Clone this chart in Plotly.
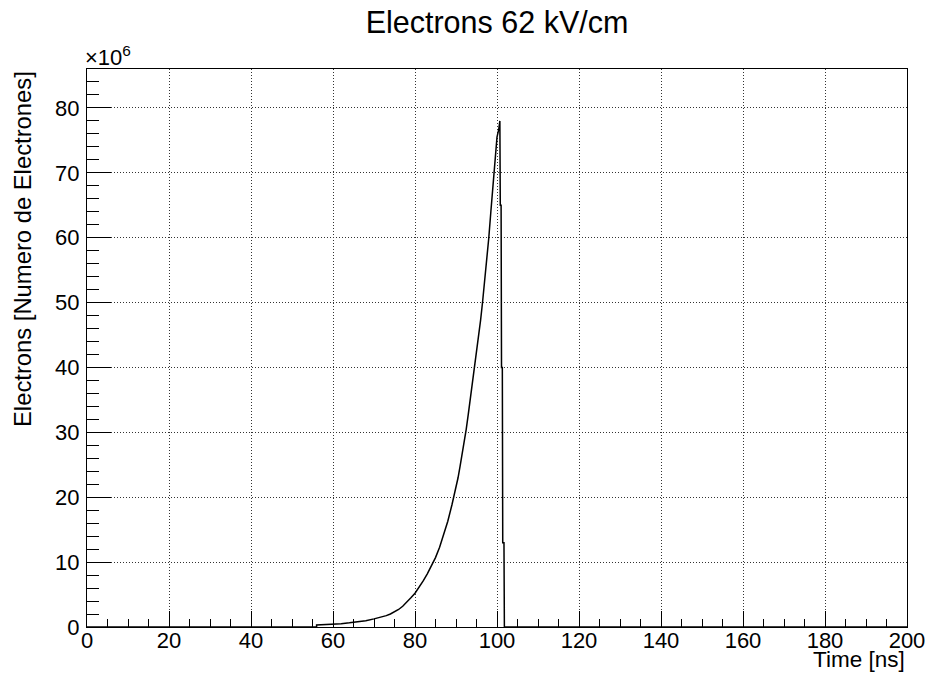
import plotly.graph_objects as go

# Curve (time in ns, electrons in units of 1e6)
time_ns = [0, 56, 56, 58, 60, 62, 64, 66, 68, 70, 71, 72, 73, 74, 75, 76, 77, 78, 79, 80, 81, 82,
           83, 84, 85, 86, 87, 88, 89, 90, 90.5, 91, 91.5, 92, 92.5, 93, 93.5, 94, 94.5, 95,
           95.5, 96, 96.5, 97, 97.5, 98, 98.5, 99, 99.5, 100, 100.4, 100.7,
           100.8, 101.0, 101.1, 101.3, 101.4, 101.7, 101.8, 200]
electrons_1e6 = [0, 0, 0.3, 0.35, 0.42, 0.52, 0.64, 0.78, 0.95, 1.25, 1.4, 1.55, 1.75, 2.0, 2.3,
                 2.7, 3.2, 3.8, 4.5, 5.2, 6.1, 7.1, 8.2, 9.4, 10.7, 12.3, 14.2, 16.3, 18.8,
                 21.5, 23.0, 24.8, 26.6, 28.5, 30.5, 32.8, 35.2, 37.3, 39.5, 41.8, 44.5, 47.3,
                 50.2, 53.2, 56.6, 60.0, 64.0, 68.0, 72.0, 75.5, 76.6, 78.0,
                 65.0, 65.0, 40.0, 40.0, 13.0, 13.0, 0, 0]

title_text = "Electrons 62 kV/cm"
x_title = "Time [ns]"
y_title = "Electrons [Numero de Electrones]"

FONT = "Liberation Sans, Arial, Helvetica, sans-serif"

fig = go.Figure()
fig.add_trace(go.Scatter(
    x=time_ns, y=electrons_1e6, mode="lines",
    line=dict(color="black", width=1.5, shape="linear"),
    showlegend=False, hoverinfo="skip",
))

W, H = 930, 678
L, R, T, B = 87, 23, 69, 51
pw, ph = W - L - R, H - T - B
GRIDDASH = "1px,2px"

fig.update_layout(
    width=W, height=H,
    margin=dict(l=L, r=R, t=T, b=B),
    paper_bgcolor="white", plot_bgcolor="white",
    font=dict(family=FONT, color="black", size=22),
    title=dict(text=title_text, x=0.5, xref="paper", xanchor="center",
               y=1 - 22 / H, yanchor="middle",
               font=dict(family=FONT, size=30.5, color="black")),
    xaxis=dict(
        range=[0, 200], dtick=20, tick0=0, automargin=False,
        ticks="inside", ticklen=16, tickwidth=1, tickcolor="black",
        showline=True, linecolor="black", linewidth=1, mirror=True,
        showgrid=True, gridcolor="#333333", griddash=GRIDDASH, gridwidth=1,
        zeroline=False, ticklabelstandoff=-6,
        tickfont=dict(family=FONT, size=22, color="black"),
        minor=dict(dtick=5, tick0=0, ticks="inside", ticklen=8, tickcolor="black",
                   tickwidth=1, showgrid=False),
    ),
    yaxis=dict(
        range=[0, 86], dtick=10, tick0=0, automargin=False,
        ticks="inside", ticklen=24, tickwidth=1, tickcolor="black",
        showline=True, linecolor="black", linewidth=1, mirror=True,
        showgrid=True, gridcolor="#333333", griddash=GRIDDASH, gridwidth=1,
        zeroline=False,
        tickfont=dict(family=FONT, size=22, color="black"),
        ticklabelstandoff=2,
        minor=dict(dtick=2, tick0=0, ticks="inside", ticklen=12, tickcolor="black",
                   tickwidth=1, showgrid=False),
    ),
)

fig.add_annotation(text=x_title, xref="paper", yref="paper",
                   x=1, y=(627 - 659) / ph, xanchor="right", yanchor="middle",
                   showarrow=False, font=dict(family=FONT, size=22.5, color="black"))
fig.add_annotation(text=y_title, xref="paper", yref="paper",
                   x=(22 - L) / pw, y=1, xanchor="center", yanchor="top",
                   textangle=-90, showarrow=False,
                   font=dict(family=FONT, size=23.8, color="black"))
fig.add_annotation(text="×10<sup>6</sup>", xref="paper", yref="paper",
                   x=(83 - L) / pw, y=1, xanchor="left", yanchor="bottom", yshift=-3,
                   showarrow=False, font=dict(family=FONT, size=22, color="black"))

fig.write_html("out.html")
